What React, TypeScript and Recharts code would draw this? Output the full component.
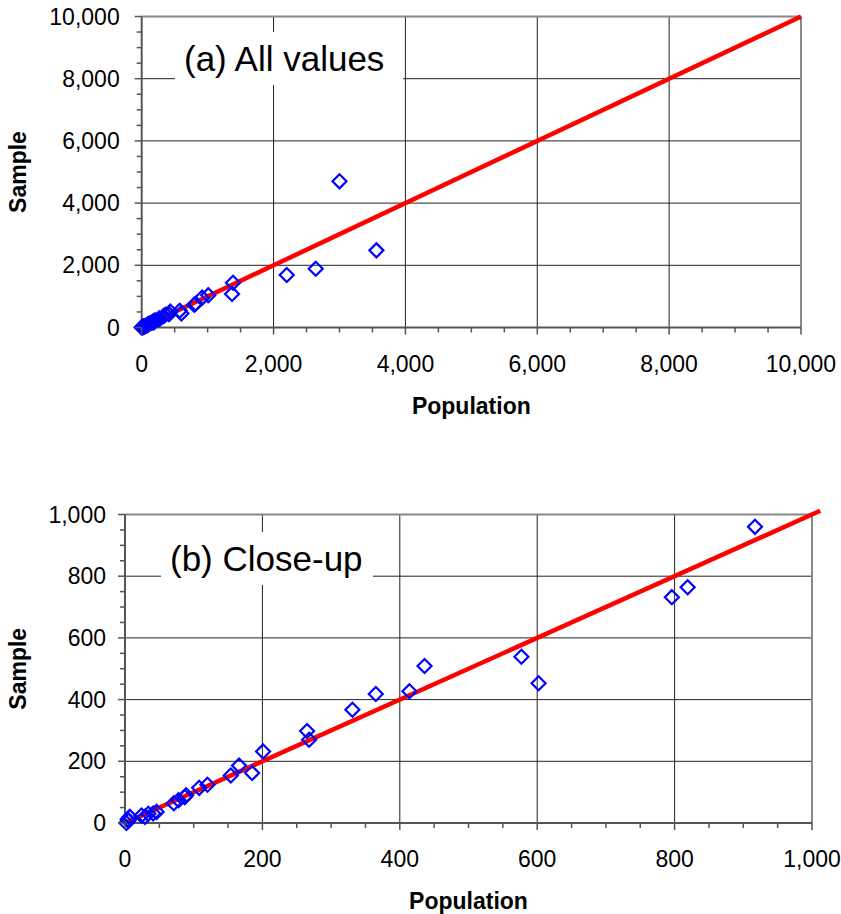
import React from "react";
import { ScatterChart, Scatter, XAxis, YAxis, CartesianGrid, ReferenceLine } from "recharts";

// values (population vs sample)
const closePopulation = [2, 5, 4, 7, 24, 29, 34, 41, 46, 71, 78, 87, 89, 108, 120, 154, 166, 185, 201, 265, 268, 331, 365, 414, 436, 577, 602, 796, 819, 917];
const closeSample = [0, 7, 12, 20, 24, 20, 30, 31, 36, 64, 74, 84, 90, 114, 124, 154, 186, 162, 232, 298, 270, 367, 418, 427, 509, 539, 453, 732, 764, 960];

// the extra points only visible in the "all values" panel
const largePopulation = [1010, 1370, 1385, 2200, 2640, 3000, 3560];
const largeSample = [1040, 1080, 1440, 1690, 1890, 4700, 2480];

const allMajorTicks = [0, 2000, 4000, 6000, 8000, 10000];
const allMinorTicks = [0, 500, 1000, 1500, 2000, 2500, 3000, 3500, 4000, 4500, 5000, 5500, 6000, 6500, 7000, 7500, 8000, 8500, 9000, 9500, 10000];
const closeMajorTicks = [0, 200, 400, 600, 800, 1000];
const closeMinorTicks = [0, 50, 100, 150, 200, 250, 300, 350, 400, 450, 500, 550, 600, 650, 700, 750, 800, 850, 900, 950, 1000];

const closeData = closePopulation.map((p, i) => ({ population: p, sample: closeSample[i] }));
const allData = closeData.concat(largePopulation.map((p, i) => ({ population: p, sample: largeSample[i] })));

const FONT = '"Liberation Sans", Arial, sans-serif';
const AXIS = "#555";

const Diamond = (props: any) => {
  const { cx, cy } = props;
  const r = 7;
  return (
    <polygon
      points={`${cx},${cy - r} ${cx + r},${cy} ${cx},${cy + r} ${cx - r},${cy}`}
      fill="none"
      stroke="#0000ff"
      strokeWidth={2.2}
    />
  );
};

const fmt = (v: number) => v.toLocaleString("en-US");

function xTick(majors: number[]) {
  return (props: any) => {
    const { x, y, payload } = props;
    const major = majors.includes(payload.value);
    return (
      <g>
        <line x1={x} y1={y} x2={x} y2={y + (major ? 7 : 5)} stroke={AXIS} strokeWidth={1.5} />
        {major && (
          <text x={x} y={y + 44} textAnchor="middle" fontFamily={FONT} fontSize={23} fill="#000">
            {fmt(payload.value)}
          </text>
        )}
      </g>
    );
  };
}

function yTick(majors: number[], gap: number) {
  return (props: any) => {
    const { x, y, payload } = props;
    const major = majors.includes(payload.value);
    return (
      <g>
        <line x1={x} y1={y} x2={x - (major ? 7 : 5)} y2={y} stroke={AXIS} strokeWidth={1.5} />
        {major && (
          <text x={x - gap} y={y + 8} textAnchor="end" fontFamily={FONT} fontSize={23} fill="#000">
            {fmt(payload.value)}
          </text>
        )}
      </g>
    );
  };
}

const xTitle = (props: any) => {
  const { viewBox } = props;
  return (
    <text
      x={viewBox.x + viewBox.width / 2}
      y={viewBox.y + 78}
      textAnchor="middle"
      dominantBaseline="central"
      fontFamily={FONT}
      fontWeight="bold"
      fontSize={23}
      fill="#000"
    >
      Population
    </text>
  );
};

const yTitle = (props: any) => {
  const { viewBox } = props;
  const cx = 18;
  const cy = viewBox.y + viewBox.height / 2;
  return (
    <text
      x={cx}
      y={cy}
      transform={`rotate(-90 ${cx} ${cy})`}
      textAnchor="middle"
      dominantBaseline="central"
      fontFamily={FONT}
      fontWeight="bold"
      fontSize={23}
      fill="#000"
    >
      Sample
    </text>
  );
};

interface PanelProps {
  data: { population: number; sample: number }[];
  max: number;
  majors: number[];
  minors: number[];
  width: number;
  height: number;
  marginTop: number;
  plotHeight: number;
  yAxisWidth: number;
  marginRight: number;
  labelGap: number;
  lineEnd: number;
}

function Panel(p: PanelProps) {
  const { data, max, majors, minors, width, height, marginTop, plotHeight, yAxisWidth, marginRight, labelGap, lineEnd } = p;
  const inner = majors.filter((v) => v > 0 && v < max);
  return (
    <ScatterChart width={width} height={height} margin={{ top: marginTop, right: marginRight, bottom: 0, left: 0 }}>
      <CartesianGrid stroke="#222" strokeWidth={1} horizontalValues={inner} verticalValues={inner} />
      <XAxis
        type="number"
        dataKey="population"
        domain={[0, max]}
        ticks={minors}
        interval={0}
        tickSize={0}
        tickMargin={0}
        tickLine={false}
        tick={xTick(majors)}
        axisLine={{ stroke: AXIS, strokeWidth: 2 }}
        height={height - marginTop - plotHeight}
        label={{ content: xTitle }}
      />
      <YAxis
        type="number"
        dataKey="sample"
        domain={[0, max]}
        ticks={minors}
        interval={0}
        tickSize={0}
        tickMargin={0}
        tickLine={false}
        tick={yTick(majors, labelGap)}
        axisLine={{ stroke: AXIS, strokeWidth: 2 }}
        width={yAxisWidth}
        label={{ content: yTitle }}
      />
      <ReferenceLine x={max} stroke="#888" strokeWidth={2} />
      <ReferenceLine y={max} stroke="#888" strokeWidth={2} />
      <ReferenceLine
        segment={[{ x: 0, y: 0 }, { x: lineEnd, y: lineEnd }]}
        stroke="#ff0000"
        strokeWidth={4.5}
        ifOverflow="visible"
      />
      <Scatter data={data} shape={Diamond} isAnimationActive={false} />
    </ScatterChart>
  );
}

const boxStyle: React.CSSProperties = {
  position: "absolute",
  background: "#fff",
  height: 53,
  lineHeight: "53px",
  fontFamily: FONT,
  fontSize: 35,
  paddingLeft: 9,
  boxSizing: "border-box",
  whiteSpace: "nowrap",
  color: "#000",
};

export default function App() {
  return (
    <div style={{ position: "relative", width: 841, height: 914, background: "#fff", overflow: "hidden" }}>
      <style>{`html, body { margin: 0; padding: 0; overflow: hidden; }`}</style>
      <div style={{ position: "absolute", left: 0, top: 0 }}>
        <Panel
          data={allData}
          max={10000}
          majors={allMajorTicks}
          minors={allMinorTicks}
          width={841}
          height={438}
          marginTop={16.5}
          plotHeight={311}
          yAxisWidth={141.7}
          marginRight={40}
          labelGap={22}
          lineEnd={10000}
        />
      </div>
      <div style={{ ...boxStyle, left: 175, top: 32, width: 228 }}>(a) All values</div>
      <div style={{ position: "absolute", left: 0, top: 460 }}>
        <Panel
          data={closeData}
          max={1000}
          majors={closeMajorTicks}
          minors={closeMinorTicks}
          width={841}
          height={454}
          marginTop={54.5}
          plotHeight={308.5}
          yAxisWidth={125}
          marginRight={29}
          labelGap={19}
          lineEnd={1012}
        />
      </div>
      <div style={{ ...boxStyle, left: 161, top: 532, width: 212 }}>(b) Close-up</div>
    </div>
  );
}
